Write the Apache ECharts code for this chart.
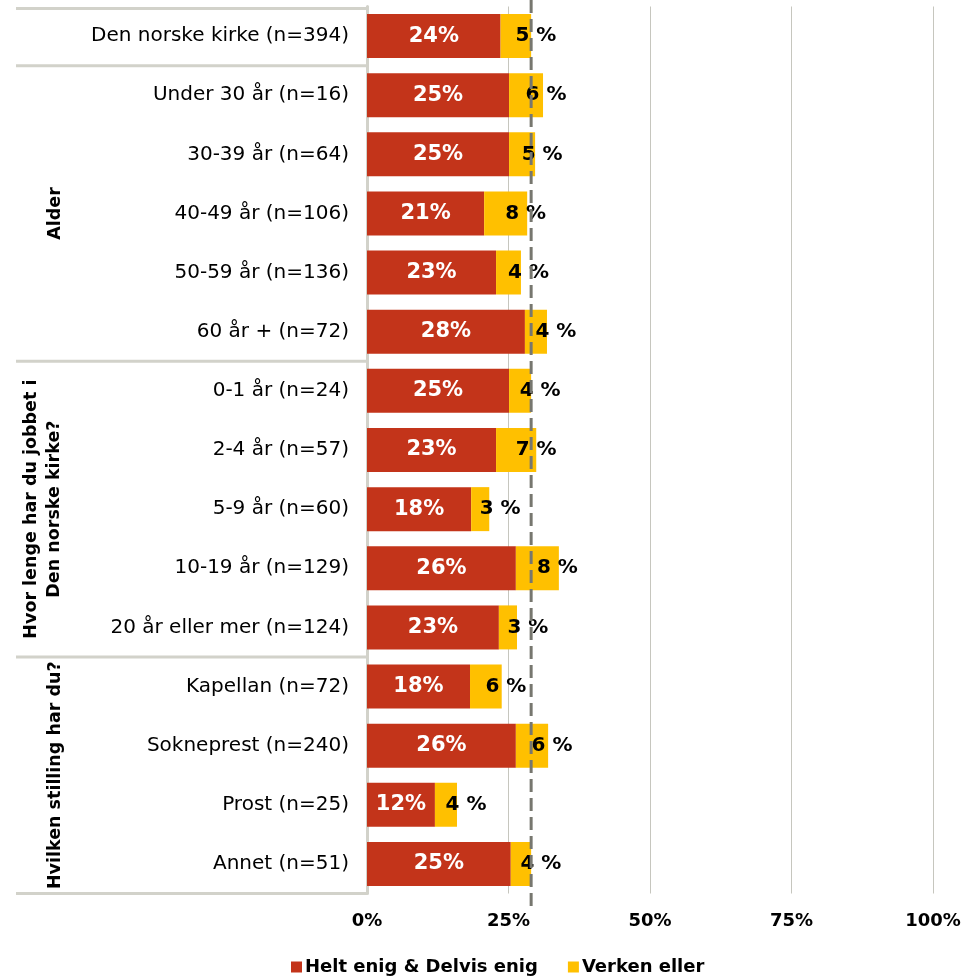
<!DOCTYPE html>
<html><head><meta charset="utf-8">
<script src="https://cdn.jsdelivr.net/npm/echarts@6/dist/echarts.min.js"></script>
<style>html,body{margin:0;padding:0;background:#fff}#c{width:973px;height:976px}</style>
</head><body><div id="c"></div>
<script>
const categories = ["Den norske kirke (n=394)","Under 30 år (n=16)","30-39 år (n=64)","40-49 år (n=106)","50-59 år (n=136)","60 år + (n=72)","0-1 år (n=24)","2-4 år (n=57)","5-9 år (n=60)","10-19 år (n=129)","20 år eller mer (n=124)","Kapellan (n=72)","Sokneprest (n=240)","Prost (n=25)","Annet (n=51)"];
const agree = [23.6,25.1,25.1,20.7,22.8,27.9,25.1,22.8,18.4,26.3,23.3,18.2,26.3,12.0,25.4];
const neutral = [5.4,6.0,4.6,7.6,4.4,3.9,3.9,7.1,3.2,7.6,3.2,5.6,5.7,3.9,3.6];
const seriesNames = ["Helt enig & Delvis enig","Verken eller"];
const xTicks = [0,25,50,75,100];
const groups = [
  {name:"Alder", from:1, to:5},
  {name:"Hvor lenge har du jobbet i\nDen norske kirke?", from:6, to:10},
  {name:"Hvilken stilling har du?", from:11, to:14}
];
const separatorsAfter = [0,5,10];

const FONT = "DejaVu Sans";
const chart = echarts.init(document.getElementById('c'));
chart.setOption({
  animation:false,
  textStyle:{fontFamily:FONT},
  grid:{left:367,right:40,top:6.5,bottom:82.5},
  legend:{
    left:286, top:953, itemWidth:11, itemHeight:11, itemGap:30,
    icon:'rect',
    textStyle:{fontFamily:FONT,fontWeight:'bold',fontSize:18,color:'#000',padding:[0,0,0,-2]},
    data:seriesNames
  },
  xAxis:{
    type:'value', min:xTicks[0], max:xTicks[xTicks.length-1], interval:25,
    axisLine:{show:false}, axisTick:{show:false},
    splitLine:{show:true,lineStyle:{color:'#c6c6be',width:1}},
    axisLabel:{formatter:'{value}%',fontFamily:FONT,fontWeight:'bold',fontSize:18,color:'#000',margin:19}
  },
  yAxis:{
    type:'category', data:categories, inverse:true,
    axisLine:{show:true,lineStyle:{color:'#d2d2ca',width:3}},
    axisTick:{show:false},
    axisLabel:{fontFamily:FONT,fontSize:20,color:'#000',margin:18}
  },
  series:[
    {name:seriesNames[0], type:'bar', stack:'s', data:agree, barWidth:44,
     itemStyle:{color:'#C3341A'},
     label:{show:true,position:'inside',color:'#fff',fontFamily:FONT,fontWeight:'bold',fontSize:21,
       formatter:p=>Math.round(p.value)+'%'}},
    {name:seriesNames[1], type:'bar', stack:'s', data:neutral, barWidth:44,
     itemStyle:{color:'#FFC000'},
     label:{show:true,position:'inside',offset:[20,0],color:'#000',fontFamily:FONT,fontWeight:'bold',fontSize:20,
       formatter:p=>Math.round(p.value)+' %'}}
  ]
});

function drawDecor(){
  const yc = i => chart.convertToPixel({yAxisIndex:0}, i);
  const axisX = chart.convertToPixel({xAxisIndex:0}, 0);
  const half = (yc(1)-yc(0))/2;
  const g = [];
  const sepYs = [yc(0)-half+2].concat(separatorsAfter.map(i => (yc(i)+yc(i+1))/2), [yc(categories.length-1)+half]);
  sepYs.forEach(y => g.push({type:'line',shape:{x1:16,y1:y,x2:axisX,y2:y},style:{stroke:'#d2d2ca',lineWidth:3},z:10}));
  groups.forEach(gr => {
    const cy = (yc(gr.from)+yc(gr.to))/2;
    const nLines = gr.name.split('\n').length;
    g.push({type:'text',x:55-(nLines-1)*12,y:cy,rotation:Math.PI/2,
      style:{text:gr.name,fontFamily:FONT,fontWeight:'bold',fontSize:17.5,fill:'#000',align:'center',verticalAlign:'middle',lineHeight:23},z:10});
  });
  const refX = chart.convertToPixel({xAxisIndex:0}, agree[0]+neutral[0]);
  g.push({type:'line',shape:{x1:refX,y1:0,x2:refX,y2:910},style:{stroke:'#77776f',lineWidth:3,lineDash:[13,6]},z:100});
  chart.setOption({graphic:g});
}
drawDecor();
</script>
</body></html>
